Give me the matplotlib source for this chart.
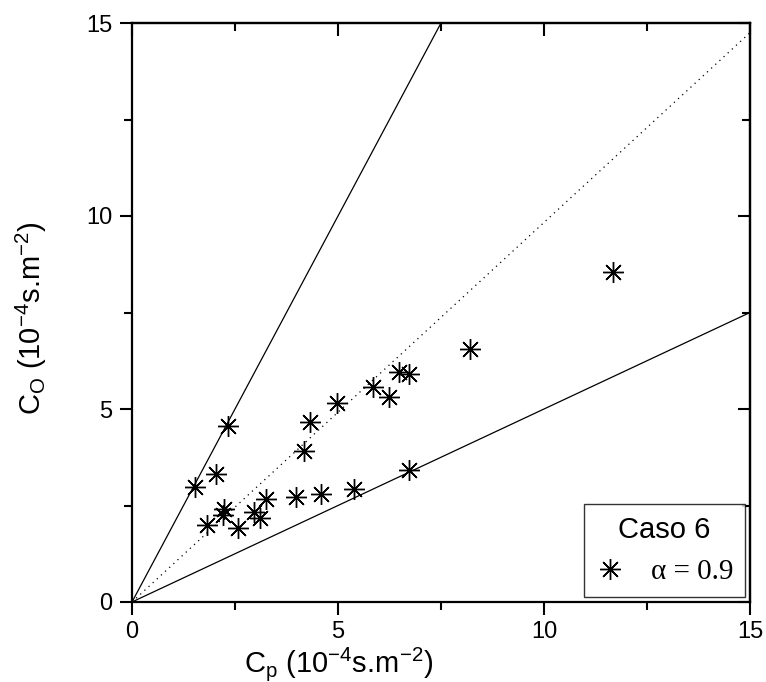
import matplotlib
matplotlib.use("Agg")
import matplotlib.pyplot as plt
from matplotlib.ticker import MultipleLocator
import numpy as np

# Data
cp = [1.53, 2.03, 2.32, 1.83, 2.23, 2.22, 2.58, 2.96, 3.11, 3.25, 3.97, 4.59,
      5.39, 4.17, 4.31, 4.98, 5.84, 6.23, 6.49, 6.73, 6.73, 8.20, 11.68]
co = [2.97, 3.31, 4.56, 1.99, 2.40, 2.25, 1.91, 2.32, 2.18, 2.66, 2.73, 2.80,
      2.92, 3.91, 4.67, 5.15, 5.58, 5.32, 5.95, 5.90, 3.42, 6.55, 8.56]
upper_x = [0, 7.5]
upper_y = [0, 15]
mid_x = [0, 15]
mid_y = [0, 14.75]
lower_x = [0, 15]
lower_y = [0, 7.5]
ticks = [0, 5, 10, 15]
legend_title = "Caso 6"
legend_label = "α = 0.9"

plt.rcParams['font.family'] = ['Liberation Sans', 'DejaVu Sans']
plt.rcParams['mathtext.fontset'] = 'custom'
plt.rcParams['mathtext.rm'] = 'Liberation Sans'
plt.rcParams['mathtext.it'] = 'Liberation Sans'

fig = plt.figure(figsize=(7.66, 6.82), dpi=100)
ax = fig.add_axes([132/766, 1-602/682, (750-132)/766, (602-23)/682])

ax.plot(upper_x, upper_y, color='black', lw=0.9)
ax.plot(lower_x, lower_y, color='black', lw=0.9)
ax.plot(mid_x, mid_y, color='black', lw=0.9, linestyle=(0, (1, 3.5)))
sc, = ax.plot(cp, co, linestyle='none', marker=(8, 2, 0), markersize=15,
              markeredgewidth=1.0, color='black', label=legend_label)

ax.set_xlim(0, 15)
ax.set_ylim(0, 15)
ax.set_xticks(ticks)
ax.set_yticks(ticks)
ax.xaxis.set_minor_locator(MultipleLocator(2.5))
ax.yaxis.set_minor_locator(MultipleLocator(2.5))
ax.tick_params(which='both', direction='out', width=1.5, labelsize=17, top=False, right=False)
ax.tick_params(which='major', length=9, pad=5)
ax.tick_params(which='minor', length=6)
for s in ax.spines.values():
    s.set_linewidth(1.6)

sx = ax.secondary_xaxis('top')
sx.set_xticks(ticks)
sx.xaxis.set_minor_locator(MultipleLocator(2.5))
sx.tick_params(which='both', direction='in', labeltop=False, width=1.5)
sx.tick_params(which='major', length=9)
sx.tick_params(which='minor', length=6)
sx.spines['top'].set_linewidth(1.6)
sy = ax.secondary_yaxis('right')
sy.set_yticks(ticks)
sy.yaxis.set_minor_locator(MultipleLocator(2.5))
sy.tick_params(which='both', direction='in', labelright=False, width=1.5)
sy.tick_params(which='major', length=9)
sy.tick_params(which='minor', length=6)
sy.spines['right'].set_linewidth(1.6)

ax.set_xlabel(r'C$_{\rm p}$ (10$^{-4}$s.m$^{-2}$)', fontsize=21)
ax.xaxis.set_label_coords(0.335, -0.075)
ax.set_ylabel(r'C$_{\rm O}$ (10$^{-4}$s.m$^{-2}$)', fontsize=21)
ax.yaxis.set_label_coords(-0.135, 0.49)

leg = ax.legend(handles=[sc], labels=[legend_label], title=legend_title,
                loc='lower right', bbox_to_anchor=(0.992, 0.009),
                borderaxespad=0.0,
                frameon=True, fancybox=False, edgecolor='black',
                prop={'family': 'Liberation Serif', 'size': 21},
                title_fontproperties={'family': 'Liberation Sans', 'size': 21},
                handlelength=1.0, handletextpad=0.9, borderpad=0.4,
                markerscale=1.0)
leg.get_frame().set_linewidth(1.0)

fig.savefig('out.png', dpi=100)
